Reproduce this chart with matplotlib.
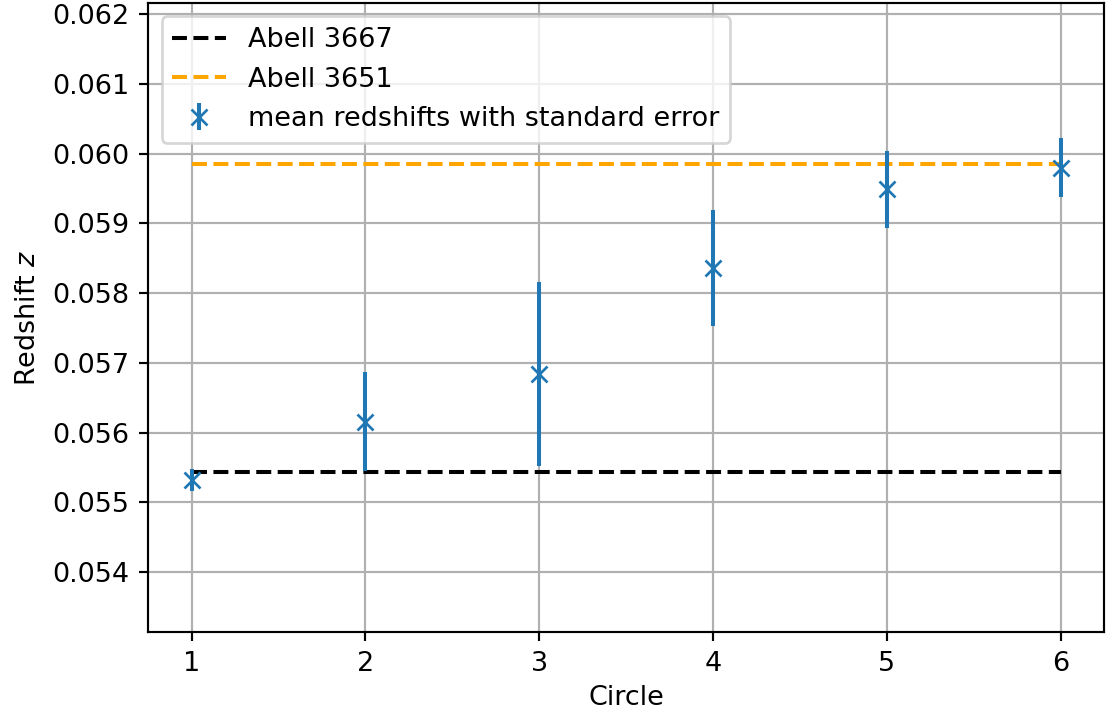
import matplotlib
matplotlib.use("Agg")
import matplotlib.pyplot as plt
from matplotlib.ticker import MultipleLocator

# mean redshift per circle and its standard error
circles = [1, 2, 3, 4, 5, 6]
mean_z = [0.05532, 0.05616, 0.05684, 0.05836, 0.05949, 0.05980]
std_err = [0.00016, 0.00071, 0.00132, 0.00083, 0.00055, 0.00042]

# cluster redshifts
z_a3667 = 0.05544
z_a3651 = 0.05985

dpi = 194
fig, ax = plt.subplots(figsize=(1114 / dpi, 716 / dpi), dpi=dpi)
fig.subplots_adjust(left=0.133, right=0.991, bottom=0.117, top=0.996)

ax.hlines(z_a3667, circles[0], circles[-1], colors="black", linestyles="--", label="Abell 3667")
ax.hlines(z_a3651, circles[0], circles[-1], colors="orange", linestyles="--", label="Abell 3651")
ax.errorbar(circles, mean_z, yerr=std_err, fmt="x", color="tab:blue",
            label="mean redshifts with standard error")

ax.set_ylim(0.05314, 0.06216)
ax.yaxis.set_major_locator(MultipleLocator(0.001))
ax.set_xlabel("Circle", labelpad=3)
ax.set_ylabel("Redshift $z$")
ax.grid(True)
ax.legend(loc="upper left")

fig.savefig("out.png", dpi=dpi)
